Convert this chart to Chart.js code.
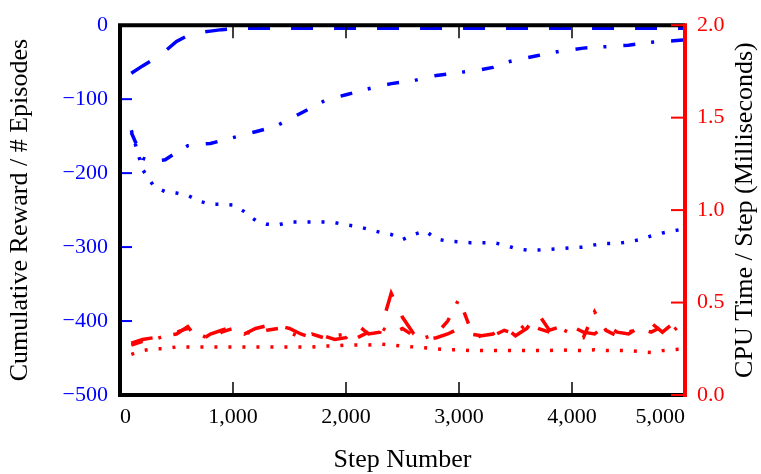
<!DOCTYPE html>
<html>
<head>
<meta charset="utf-8">
<script src="https://cdn.jsdelivr.net/npm/chart.js@4/dist/chart.umd.min.js"></script>
<style>
  html, body { margin: 0; padding: 0; background: #fff; }
</style>
</head>
<body>
<canvas id="rewardChart" width="761" height="474"></canvas>
<script>
// step numbers shared by every series
const steps = [100, 200, 300, 400, 500, 600, 700, 800, 900, 1000,
  1100, 1200, 1300, 1400, 1500, 1600, 1700, 1800, 1900, 2000,
  2100, 2200, 2300, 2400, 2500, 2600, 2700, 2800, 2900, 3000,
  3100, 3200, 3300, 3400, 3500, 3600, 3700, 3800, 3900, 4000,
  4100, 4200, 4300, 4400, 4500, 4600, 4700, 4800, 4900, 5000];

// cumulative reward / # episodes (left axis)
const rewardDashed = [-65, -55, -46, -35, -22, -14, -10, -8, -6, -5,
  -4, -4, -4, -4, -4, -4, -4, -4, -4, -4,
  -4, -4, -4, -4, -4, -4, -4, -4, -4, -4,
  -4, -4, -4, -4, -4, -4, -4, -4, -4, -4,
  -4, -4, -4, -4, -4, -4, -4, -4, -4, -4];
const rewardDashDot = [-145, -180, -184, -182, -172, -163, -161, -160, -156, -152,
  -148, -144, -140, -135, -127, -119, -111, -103, -98, -94,
  -90, -86, -82, -79, -77, -75, -71, -68, -66, -64,
  -62, -60, -57, -51, -47, -44, -41, -38, -35, -33,
  -31, -30, -29, -28, -27, -25, -23, -22, -21, -20];
const rewardDotted = [-142, -195, -218, -225, -227, -230, -238, -242, -242, -243,
  -252, -264, -269, -270, -266, -266, -266, -266, -267, -270,
  -272, -276, -280, -283, -290, -283, -278, -289, -292, -293,
  -294, -294, -294, -297, -302, -304, -304, -303, -302, -301,
  -300, -297, -295, -295, -293, -290, -285, -281, -278, -275];

// CPU time / step in ms (right axis)
const cpuDashed = [0.28, 0.30, 0.31, 0.32, 0.33, 0.37, 0.29, 0.33, 0.35, 0.37,
  0.33, 0.36, 0.375, 0.375, 0.36, 0.33, 0.31, 0.32, 0.30, 0.31,
  0.38, 0.33, 0.34, 0.55, 0.42, 0.33, 0.30, 0.31, 0.33, 0.36,
  0.33, 0.32, 0.33, 0.37, 0.32, 0.36, 0.44, 0.35, 0.37, 0.37,
  0.34, 0.33, 0.38, 0.34, 0.33, 0.37, 0.39, 0.34, 0.39, 0.33];
const cpuDashDot = [0.27, 0.29, 0.30, 0.32, 0.34, 0.36, 0.33, 0.30, 0.34, 0.36,
  0.34, 0.33, 0.35, 0.36, 0.34, 0.31, 0.33, 0.31, 0.32, 0.33,
  0.31, 0.34, 0.37, 0.33, 0.36, 0.32, 0.31, 0.33, 0.40, 0.52,
  0.36, 0.31, 0.32, 0.35, 0.33, 0.39, 0.36, 0.34, 0.36, 0.33,
  0.31, 0.45, 0.35, 0.32, 0.34, 0.36, 0.34, 0.37, 0.35, 0.40];
const cpuDotted = [0.22, 0.24, 0.25, 0.25, 0.26, 0.26, 0.26, 0.26, 0.26, 0.26,
  0.26, 0.26, 0.26, 0.26, 0.26, 0.26, 0.26, 0.265, 0.265, 0.27,
  0.27, 0.27, 0.275, 0.27, 0.265, 0.26, 0.255, 0.25, 0.245, 0.245,
  0.24, 0.24, 0.24, 0.24, 0.24, 0.24, 0.24, 0.24, 0.245, 0.24,
  0.24, 0.245, 0.24, 0.24, 0.24, 0.235, 0.23, 0.24, 0.245, 0.25];

const xTicks = [0, 1000, 2000, 3000, 4000, 5000];
const leftTicks = [0, -100, -200, -300, -400, -500];
const rightTicks = [0, 0.5, 1.0, 1.5, 2.0];

const serif = 'Liberation Serif';
const blue = '#0000ff';
const red = '#ff0000';

const pts = vals => vals.map((v, i) => ({ x: steps[i], y: v }));

// inward tick marks + the heavy frame, drawn from the chart's own scales
const frame = {
  id: 'frame',
  afterDraw(chart) {
    const { ctx, chartArea: a, scales } = chart;
    const seg = (x1, y1, x2, y2) => { ctx.beginPath(); ctx.moveTo(x1, y1); ctx.lineTo(x2, y2); ctx.stroke(); };
    ctx.save();
    ctx.lineWidth = 1.5;
    ctx.strokeStyle = '#000';
    xTicks.forEach(v => {
      const px = scales.x.getPixelForValue(v);
      seg(px, a.bottom, px, a.bottom - 13);
      seg(px, a.top, px, a.top + 13);
    });
    ctx.lineWidth = 2;
    ctx.strokeStyle = blue;
    leftTicks.forEach(v => {
      const py = scales.y.getPixelForValue(v);
      seg(a.left, py, a.left + 12, py);
    });
    ctx.lineWidth = 4;
    ctx.strokeStyle = '#000';
    ctx.beginPath();
    ctx.moveTo(a.right, a.top);
    ctx.lineTo(a.left, a.top);
    ctx.lineTo(a.left, a.bottom);
    ctx.lineTo(a.right, a.bottom);
    ctx.stroke();
    ctx.lineWidth = 2;
    ctx.strokeStyle = red;
    rightTicks.forEach(v => {
      const py = scales.y2.getPixelForValue(v);
      seg(a.right, py, a.right - 14, py);
    });
    ctx.lineWidth = 4;
    seg(a.right, a.top - 2, a.right, a.bottom + 2);
    // right axis title, reading bottom to top
    ctx.fillStyle = '#000';
    ctx.font = '26px "' + serif + '"';
    ctx.textAlign = 'center';
    ctx.textBaseline = 'middle';
    ctx.translate(745, (a.top + a.bottom) / 2);
    ctx.rotate(-Math.PI / 2);
    ctx.fillText('CPU Time / Step (Milliseconds)', 0, 0);
    ctx.restore();
  }
};

const ctx = document.getElementById('rewardChart').getContext('2d');
const rewardChart = new Chart(ctx, {
  type: 'line',
  data: {
    datasets: [
      { data: pts(cpuDotted), yAxisID: 'y2', borderColor: red, borderWidth: 3.5, borderDash: [3, 11] },
      { data: pts(cpuDashDot), yAxisID: 'y2', borderColor: red, borderWidth: 3.5, borderDash: [12, 16, 3, 17] },
      { data: pts(cpuDashed), yAxisID: 'y2', borderColor: red, borderWidth: 3.5, borderDash: [22, 21] },
      { data: pts(rewardDotted), yAxisID: 'y', borderColor: blue, borderWidth: 3.5, borderDash: [3, 11] },
      { data: pts(rewardDashDot), yAxisID: 'y', borderColor: blue, borderWidth: 3.5, borderDash: [12, 16, 3, 17] },
      { data: pts(rewardDashed), yAxisID: 'y', borderColor: blue, borderWidth: 3.5, borderDash: [22, 21] }
    ]
  },
  options: {
    responsive: false,
    animation: false,
    layout: { padding: { top: 17, left: 0, right: 0, bottom: 0 } },
    elements: { point: { radius: 0 }, line: { tension: 0, fill: false } },
    plugins: { legend: { display: false }, tooltip: { enabled: false } },
    scales: {
      x: {
        type: 'linear',
        min: 0,
        max: 5000,
        grid: { display: false, drawTicks: false },
        border: { display: false },
        afterBuildTicks: s => { s.ticks = xTicks.map(v => ({ value: v })); },
        afterFit: s => { s.height = 79; },
        ticks: {
          align: 'inner',
          color: '#000',
          padding: 9,
          font: { family: serif, size: 22 },
          callback: v => v.toLocaleString('en-US')
        },
        title: {
          display: true,
          text: 'Step Number',
          color: '#000',
          font: { family: serif, size: 26 },
          padding: { top: 0, bottom: -2 }
        }
      },
      y: {
        position: 'left',
        min: -500,
        max: 0,
        grid: { display: false, drawTicks: false },
        border: { display: false },
        afterBuildTicks: s => { s.ticks = leftTicks.map(v => ({ value: v })); },
        afterFit: s => { s.width = 120; },
        ticks: {
          color: blue,
          padding: 12,
          font: { family: serif, size: 22 },
          callback: v => String(v).replace('-', '\u2212')
        },
        title: {
          display: true,
          text: 'Cumulative Reward / # Episodes',
          color: '#000',
          font: { family: serif, size: 26 },
          padding: { top: 5, bottom: 0 }
        }
      },
      y2: {
        position: 'right',
        min: 0,
        max: 2,
        grid: { display: false, drawTicks: false },
        border: { display: false },
        afterBuildTicks: s => { s.ticks = rightTicks.map(v => ({ value: v })); },
        afterFit: s => { s.width = 76; },
        ticks: {
          color: red,
          padding: 12,
          font: { family: serif, size: 22 },
          callback: v => v.toFixed(1)
        }
      }
    }
  },
  plugins: [frame]
});
</script>
</body>
</html>
